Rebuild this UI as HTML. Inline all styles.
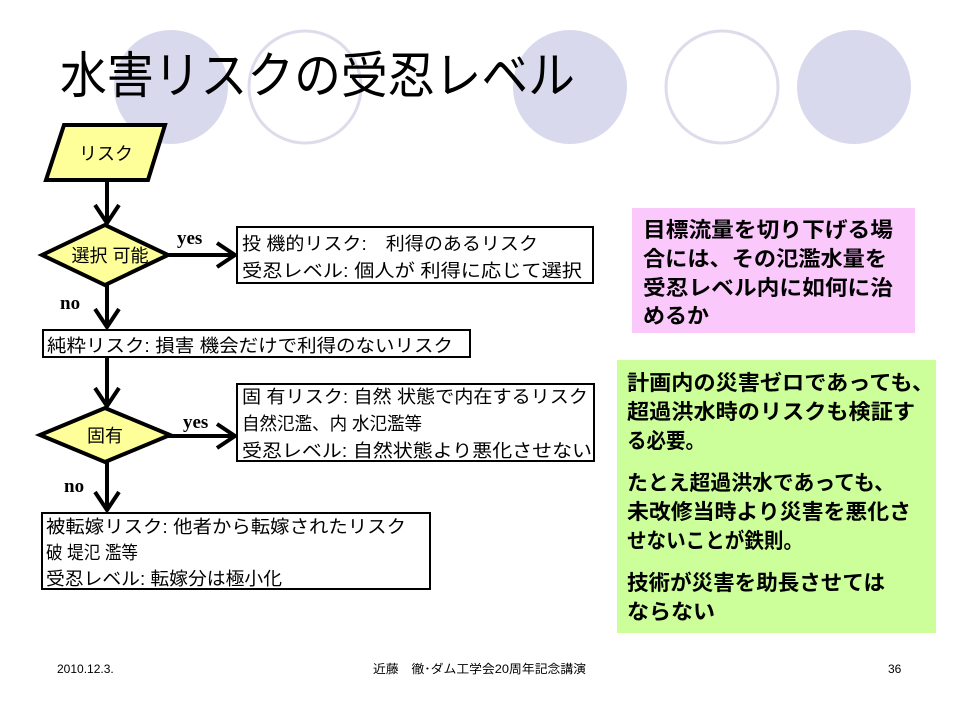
<!DOCTYPE html>
<html><head><meta charset="utf-8"><style>
html,body{margin:0;padding:0;background:#fff;}
svg{display:block;}
text{font-family:"Liberation Sans","Noto Sans CJK JP",sans-serif;}
text.s{font-family:"Liberation Serif",serif;font-weight:bold;}
</style></head><body>
<svg width="960" height="720" viewBox="0 0 960 720" xmlns="http://www.w3.org/2000/svg">
<g>
<ellipse cx="171" cy="87" rx="57" ry="57" fill="#d9d9ee"/>
<ellipse cx="305" cy="87" rx="56" ry="56" fill="none" stroke="#dcdcec" stroke-width="3"/>
<ellipse cx="570" cy="87" rx="57" ry="57" fill="#d9d9ee"/>
<ellipse cx="722" cy="87" rx="56" ry="56" fill="none" stroke="#dcdcec" stroke-width="3"/>
<ellipse cx="854" cy="87" rx="57" ry="57" fill="#d9d9ee"/>
</g>
<text x="60" y="93" font-size="50" textLength="515" lengthAdjust="spacingAndGlyphs">水害リスクの受忍レベル</text>

<polygon points="64,125 165,125 148,180 46,180" fill="#ffff99" stroke="#000" stroke-width="4"/>
<text x="106" y="160" font-size="18" text-anchor="middle">リスク</text>

<g stroke="#000" stroke-width="4" fill="none">
<line x1="107" y1="180" x2="107" y2="222"/>
<polyline points="95,205 107,223 119,205"/>
<line x1="107" y1="285" x2="107" y2="326"/>
<polyline points="95,309 107,327 119,309"/>
<line x1="107" y1="357" x2="107" y2="405"/>
<polyline points="95,388 107,406 119,388"/>
<line x1="107" y1="460" x2="107" y2="509"/>
<polyline points="95,492 107,510 119,492"/>
<line x1="168" y1="255" x2="234" y2="255"/>
<polyline points="217,243 235,255 217,267"/>
<line x1="168" y1="436" x2="234" y2="436"/>
<polyline points="217,424 235,436 217,448"/>
</g>

<polygon points="42,255 105,225 168,255 105,285" fill="#ffff99" stroke="#000" stroke-width="4"/>
<text x="110" y="262" font-size="18" text-anchor="middle">選択 可能</text>
<polygon points="40,435 105,408 170,435 105,462" fill="#ffff99" stroke="#000" stroke-width="4"/>
<text x="105" y="442" font-size="18" text-anchor="middle">固有</text>

<text class="s" x="177" y="244" font-size="19">yes</text>
<text class="s" x="183" y="428" font-size="19">yes</text>
<text class="s" x="60" y="309" font-size="19">no</text>
<text class="s" x="64" y="492" font-size="19">no</text>

<g fill="#fff" stroke="#000" stroke-width="2">
<rect x="237" y="227" width="356" height="56"/>
<rect x="43" y="330" width="427" height="27"/>
<rect x="237" y="384" width="357" height="77"/>
<rect x="42" y="513" width="388" height="76"/>
</g>
<g font-size="18">
<text x="242" y="250" textLength="296" lengthAdjust="spacingAndGlyphs">投 機的リスク:　利得のあるリスク</text>
<text x="242" y="277" textLength="340" lengthAdjust="spacingAndGlyphs">受忍レベル: 個人が 利得に応じて選択</text>
<text x="47" y="352" textLength="406" lengthAdjust="spacingAndGlyphs">純粋リスク: 損害 機会だけで利得のないリスク</text>
<text x="242" y="403" textLength="346" lengthAdjust="spacingAndGlyphs">固 有リスク: 自然 状態で内在するリスク</text>
<text x="242" y="430" textLength="180" lengthAdjust="spacingAndGlyphs">自然氾濫、内 水氾濫等</text>
<text x="242" y="457" textLength="350" lengthAdjust="spacingAndGlyphs">受忍レベル: 自然状態より悪化させない</text>
<text x="46" y="533" textLength="360" lengthAdjust="spacingAndGlyphs">被転嫁リスク: 他者から転嫁されたリスク</text>
<text x="46" y="559" textLength="92" lengthAdjust="spacingAndGlyphs">破 堤氾 濫等</text>
<text x="46" y="585" textLength="236" lengthAdjust="spacingAndGlyphs">受忍レベル: 転嫁分は極小化</text>
</g>

<rect x="632" y="208" width="283" height="125" fill="#fbc8fb"/>
<g font-size="21" font-weight="bold">
<text x="643" y="237" textLength="250" lengthAdjust="spacingAndGlyphs">目標流量を切り下げる場</text>
<text x="643" y="266" textLength="244" lengthAdjust="spacingAndGlyphs">合には、その氾濫水量を</text>
<text x="643" y="295" textLength="250" lengthAdjust="spacingAndGlyphs">受忍レベル内に如何に治</text>
<text x="643" y="323" textLength="66" lengthAdjust="spacingAndGlyphs">めるか</text>
</g>
<rect x="617" y="360" width="319" height="273" fill="#ccff99"/>
<g font-size="21" font-weight="bold">
<text x="627" y="390" textLength="307" lengthAdjust="spacingAndGlyphs">計画内の災害ゼロであっても、</text>
<text x="627" y="419" textLength="288" lengthAdjust="spacingAndGlyphs">超過洪水時のリスクも検証す</text>
<text x="627" y="448" textLength="78" lengthAdjust="spacingAndGlyphs">る必要。</text>
<text x="627" y="490" textLength="268" lengthAdjust="spacingAndGlyphs">たとえ超過洪水であっても、</text>
<text x="627" y="519" textLength="284" lengthAdjust="spacingAndGlyphs">未改修当時より災害を悪化さ</text>
<text x="627" y="548" textLength="176" lengthAdjust="spacingAndGlyphs">せないことが鉄則。</text>
<text x="627" y="590" textLength="258" lengthAdjust="spacingAndGlyphs">技術が災害を助長させては</text>
<text x="627" y="619" textLength="88" lengthAdjust="spacingAndGlyphs">ならない</text>
</g>

<g font-size="12">
<text x="57" y="673">2010.12.3.</text>
<text x="373" y="673" textLength="213" lengthAdjust="spacingAndGlyphs">近藤　徹･ダム工学会20周年記念講演</text>
<text x="888" y="673">36</text>
</g>
</svg>
</body></html>
